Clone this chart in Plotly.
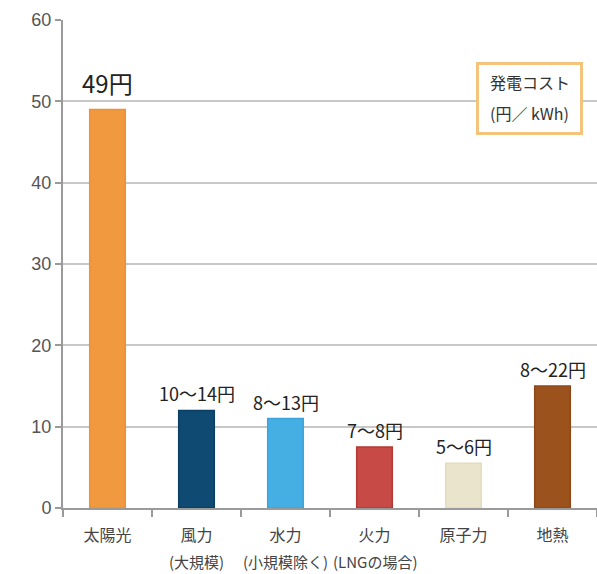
import plotly.graph_objects as go

# Generation cost by energy source (yen per kWh)
categories = ["太陽光", "風力", "水力", "火力", "原子力", "地熱"]
sub_labels = ["", "(大規模)", "(小規模除く)", "(LNGの場合)", "", ""]
values = [49, 12, 11, 7.5, 5.5, 15]
value_labels = ["49円", "10～14円", "8～13円", "7～8円", "5～6円", "8～22円"]
label_sizes = [24, 18, 18, 18, 18, 18]
bar_colors = ["#F0993F", "#0E4A72", "#45AEE3", "#C84A46", "#EAE4CC", "#9B521D"]
edge_colors = ["#EE9038", "#0B3F63", "#3BA4DA", "#B53733", "#E3DCC0", "#8E4818"]
y_ticks = [0, 10, 20, 30, 40, 50, 60]

FONT = "Noto Sans CJK JP, Liberation Sans, sans-serif"

fig = go.Figure(
    go.Bar(
        x=categories,
        y=values,
        marker=dict(color=bar_colors, line=dict(color=edge_colors, width=1.5)),
        width=0.4,
        hoverinfo="skip",
    )
)

# value labels above each bar
for cat, val, txt, size in zip(categories, values, value_labels, label_sizes):
    fig.add_annotation(
        x=cat, y=val, text=txt, showarrow=False, yanchor="bottom",
        yshift=7 if size > 18 else 2,
        font=dict(family=FONT, size=size, color="#222222"),
    )

# secondary line under some category names
for cat, sub in zip(categories, sub_labels):
    if sub:
        fig.add_annotation(
            x=cat, y=0, yref="y", text=sub, showarrow=False,
            yanchor="middle", yshift=-53,
            font=dict(family=FONT, size=15, color="#444444"),
        )

# unit box in the upper right
plot_left, plot_w, plot_top, plot_h = 63, 534, 20, 488
def px_x(p):
    return (p - plot_left) / plot_w
def px_y(p):
    return (plot_top + plot_h - p) / plot_h

fig.add_annotation(
    xref="paper", yref="paper", x=px_x(529.5), y=px_y(98.5),
    xanchor="center", yanchor="middle", text=" ", showarrow=False,
    width=101, height=67, bgcolor="white",
    bordercolor="#F5C47C", borderwidth=3, borderpad=0,
    font=dict(size=10),
)
fig.add_annotation(
    xref="paper", yref="paper", x=px_x(529.5), y=px_y(82),
    xanchor="center", yanchor="middle", text="発電コスト",
    showarrow=False, font=dict(family=FONT, size=16, color="#333333"),
)
fig.add_annotation(
    xref="paper", yref="paper", x=px_x(529.5), y=px_y(113),
    xanchor="center", yanchor="middle", text="(円／ kWh)",
    showarrow=False, font=dict(family=FONT, size=16, color="#333333"),
)

fig.update_layout(
    width=597, height=574,
    margin=dict(l=63, r=0, t=20, b=66),
    paper_bgcolor="white", plot_bgcolor="white",
    showlegend=False,
    font=dict(family=FONT),
)
fig.update_xaxes(
    type="category",
    showline=True, linecolor="#9A9A9A", linewidth=2,
    ticks="outside", tickson="boundaries", ticklen=7, tickcolor="#9A9A9A", tickwidth=1.5,
    ticklabelstandoff=12,
    tickfont=dict(family=FONT, size=16, color="#444444"),
    showgrid=False,
    fixedrange=True,
)
fig.update_yaxes(
    range=[0, 60], tickvals=y_ticks,
    showline=True, linecolor="#9A9A9A", linewidth=2,
    ticks="outside", ticklen=6, tickcolor="#9A9A9A", tickwidth=1.5,
    tickfont=dict(family="Liberation Sans, sans-serif", size=18, color="#555555"),
    showgrid=True, gridcolor="#C8C8C8", gridwidth=1.5,
    zeroline=False,
    fixedrange=True,
)

fig.write_html("out.html")
